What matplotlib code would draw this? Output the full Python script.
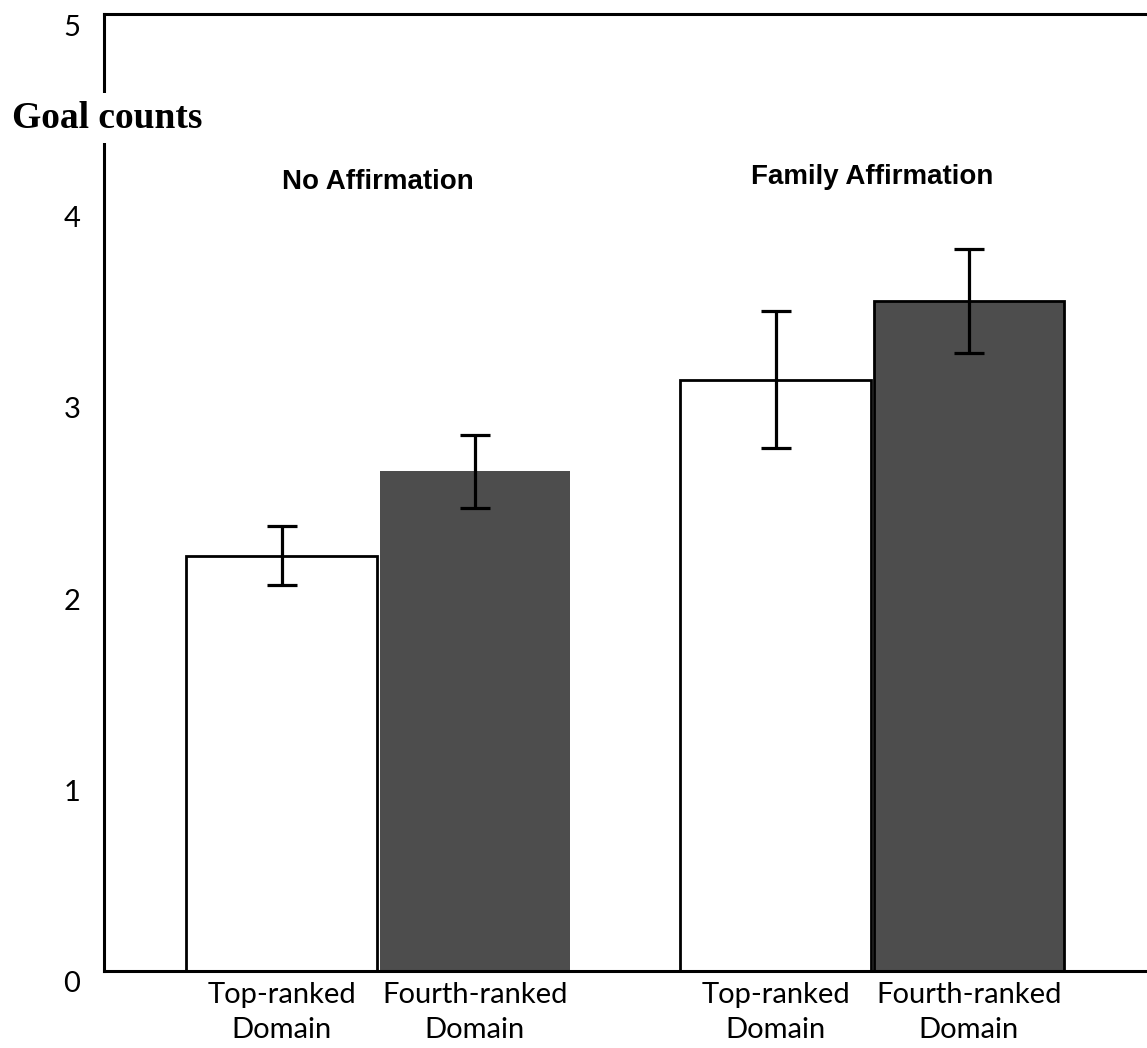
import matplotlib
matplotlib.use("Agg")
import numpy as np
import matplotlib.pyplot as plt
from matplotlib.transforms import ScaledTranslation

plt.rcParams["font.family"] = ["Lato", "DejaVu Sans"]

# data
conditions = ["No Affirmation", "Family Affirmation"]
domain_labels = ["Top-ranked\nDomain", "Fourth-ranked\nDomain",
                 "Top-ranked\nDomain", "Fourth-ranked\nDomain"]
goal_means = [2.17, 2.61, 3.09, 3.50]
goal_se = [0.155, 0.19, 0.36, 0.27]
bar_colors = ["white", "#4d4d4d", "white", "#4d4d4d"]
bar_edges = ["black", "none", "black", "black"]
ytick_vals = [0, 1, 2, 3, 4, 5]

x = np.array([0, 1.01, 2.58, 3.59])

fig = plt.figure(figsize=(11.47, 10.48), dpi=100)
ax = fig.add_axes([104/1147, 1 - 971/1048, 1 - 104/1147, (971 - 14)/1048])

ax.bar(x, goal_means, width=0.995, color=bar_colors, edgecolor=bar_edges,
       linewidth=2, zorder=2)
ax.errorbar(x, goal_means, yerr=goal_se, fmt="none", ecolor="black",
            elinewidth=2.3, capsize=10.5, capthick=2.3, zorder=3)

ax.set_xlim(-0.927, 4.52)
ax.set_ylim(0, 5)

for s in ["left", "top", "bottom"]:
    ax.spines[s].set_linewidth(2.2)
ax.spines["right"].set_visible(False)

ax.set_yticks(ytick_vals)
ax.set_yticklabels([str(v) for v in ytick_vals])
ax.tick_params(axis="y", length=0, pad=17, labelsize=21)
off = ScaledTranslation(0, -11/100, fig.dpi_scale_trans)
for lab in ax.get_yticklabels():
    lab.set_transform(lab.get_transform() + off)

ax.set_xticks(x)
ax.set_xticklabels(domain_labels, linespacing=1.4)
ax.tick_params(axis="x", length=0, pad=8, labelsize=21)

# condition headers over each pair
ax.text((x[0] + x[1]) / 2, 4.12, conditions[0], ha="center", va="center",
        fontsize=20, fontweight="bold", family="Liberation Sans")
ax.text((x[2] + x[3]) / 2, 4.15, conditions[1], ha="center", va="center",
        fontsize=20, fontweight="bold", family="Liberation Sans")

fig.text(12/1147, 1 - 118/1048, "Goal counts", ha="left", va="center",
         fontsize=27, fontweight="bold", family="Liberation Serif",
         bbox=dict(facecolor="white", edgecolor="none", pad=5))

fig.savefig("out.png", dpi=100)
